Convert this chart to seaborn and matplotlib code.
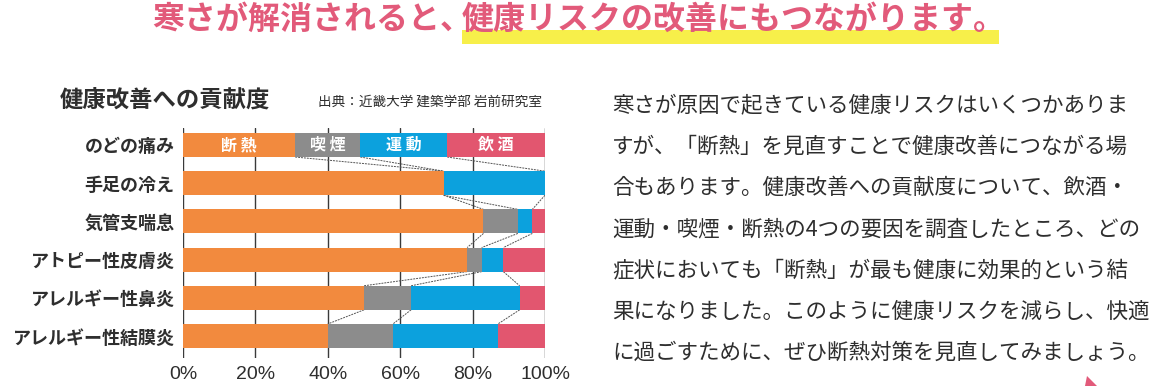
import matplotlib
matplotlib.use('Agg')
import matplotlib.pyplot as plt
import seaborn as sns
import numpy as np
import pandas as pd
from matplotlib.patches import Rectangle, Polygon

# ---- data ----
categories = ['のどの痛み', '手足の冷え', '気管支喘息', 'アトピー性皮膚炎', 'アレルギー性鼻炎', 'アレルギー性結膜炎']
factors = ['断熱', '喫煙', '運動', '飲酒']
danetsu = [31, 72, 83, 78.5, 50, 40]
kitsuen = [18, 0, 9.5, 4, 13, 18]
undou = [24, 28, 4, 6, 30, 29]
inshu = [27, 0, 3.5, 11.5, 7, 13]
xticks = [0, 20, 40, 60, 80, 100]
xticklabels = ['0%', '20%', '40%', '60%', '80%', '100%']

title_a = '寒さが解消されると、'
title_b = '健康リスクの改善にもつながります。'
chart_title = '健康改善への貢献度'
source = '出典：近畿大学 建築学部 岩前研究室'
paragraph = [
    '寒さが原因で起きている健康リスクはいくつかありま',
    'すが、「断熱」を見直すことで健康改善につながる場',
    '合もあります。健康改善への貢献度について、飲酒・',
    '運動・喫煙・断熱の4つの要因を調査したところ、どの',
    '症状においても「断熱」が最も健康に効果的という結',
    '果になりました。このように健康リスクを減らし、快適',
    'に過ごすために、ぜひ断熱対策を見直してみましょう。',
]

colors = ['#F28A3E', '#8C8C8C', '#0CA1DD', '#E2566F']
pink = '#E25A7A'
dark = '#2E2E2E'

sns.set_theme(style='white')
plt.rcParams['font.family'] = ['Noto Sans CJK JP', 'DejaVu Sans']

W, H = 1157, 386
fig = plt.figure(figsize=(W / 100, H / 100), dpi=100)
fig.patch.set_facecolor('white')


def fx(px):
    return px / W


def fy(py):
    return 1 - py / H


ax = fig.add_axes([fx(183), fy(358), fx(545) - fx(183), fy(128) - fy(358)])

df = pd.DataFrame({'category': categories, '断熱': danetsu, '喫煙': kitsuen,
                   '運動': undou, '飲酒': inshu})
cum = df[factors].cumsum(axis=1)
cum['category'] = categories

bw = 0.63
for f, c in reversed(list(zip(factors, colors))):
    sns.barplot(data=cum, x=f, y='category', orient='h', color=c, saturation=1,
                width=bw, ax=ax, zorder=3, linewidth=0)

# series lines between bars
for i in range(len(categories) - 1):
    for f in factors[:3]:
        ax.plot([cum.loc[i, f], cum.loc[i + 1, f]], [i + bw / 2, i + 1 - bw / 2],
                color='#555555', lw=0.7, ls=(0, (2, 1)), zorder=2)

# labels in the first bar
prev = 0
for f in factors:
    v = df.loc[0, f]
    ax.text(prev + v / 2, 0, ' '.join(f), color='white', fontsize=11.5,
            fontweight='bold', ha='center', va='center', zorder=5)
    prev += v

ax.set_xlim(0, 100)
ax.set_ylim(5.576, -0.445)
ax.set_xticks(xticks)
ax.set_xticklabels(xticklabels, fontsize=14, color=dark, family='Liberation Sans')
ax.set_yticks(range(len(categories)))
ax.set_yticklabels(categories, fontsize=13, fontweight='bold', color=dark)
ax.tick_params(axis='y', length=0, pad=6)
ax.tick_params(axis='x', length=0, pad=6)
ax.set_xlabel('')
ax.set_ylabel('')
for s in ax.spines.values():
    s.set_visible(False)
ax.grid(axis='x', color='#3A3A3A', lw=1, zorder=1)
ax.grid(axis='y', visible=False)
ax.set_axisbelow(True)
ax.set_facecolor('none')

# top title with highlight
fig.patches.append(Rectangle((fx(462), fy(44)), fx(999) - fx(462), 14 / H,
                             transform=fig.transFigure, facecolor='#F7EF4A',
                             edgecolor='none', zorder=0))
fig.text(fx(152), fy(20), title_a, color=pink, fontsize=23, fontweight='bold',
         va='center', ha='left', zorder=2)
fig.text(fx(462), fy(20), title_b, color=pink, fontsize=23, fontweight='bold',
         va='center', ha='left', zorder=2)

# chart title & source
fig.text(fx(60), fy(100), chart_title, color=dark, fontsize=16.8, fontweight='bold',
         va='center', ha='left')
fig.text(fx(318), fy(102), source, color=dark, fontsize=9.8, va='center', ha='left')

# paragraph
for k, line in enumerate(paragraph):
    fig.text(fx(612), fy(105 + k * 41.3), line, color=dark, fontsize=15.5,
             va='center', ha='left')

# small pink pointer
fig.patches.append(Polygon([(fx(1087), fy(376)), (fx(1097), fy(386)), (fx(1085), fy(386))],
                           closed=True, transform=fig.transFigure, facecolor=pink,
                           edgecolor='none'))

fig.savefig('out.png', dpi=100)
